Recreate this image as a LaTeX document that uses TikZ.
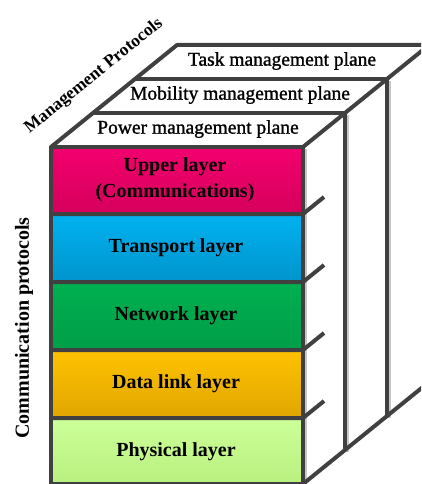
\documentclass[tikz,border=0pt]{standalone}
\usepackage{fontspec}
\setmainfont{Liberation Serif}
\newfontfamily\planefont[FakeBold=1.2]{Liberation Serif}
\definecolor{linegray}{HTML}{404040}
\definecolor{shadowgray}{HTML}{C8C8C8}
\definecolor{pinkT}{HTML}{F2006E}
\definecolor{pinkB}{HTML}{D6005C}
\definecolor{blueT}{HTML}{00B2F0}
\definecolor{blueB}{HTML}{0094CC}
\definecolor{greenT}{HTML}{00B050}
\definecolor{greenB}{HTML}{009E48}
\definecolor{orangeT}{HTML}{FFC200}
\definecolor{orangeB}{HTML}{E0A600}
\definecolor{lgreenT}{HTML}{CCFF99}
\definecolor{lgreenB}{HTML}{B8F07E}
\begin{document}
\begin{tikzpicture}[x=1pt,y=-1pt,
  edge/.style={draw=linegray,line width=4pt,line join=round},
  shadowedge/.style={draw=shadowgray,line width=4pt},
  lbl/.style={font=\fontsize{20}{26}\selectfont\bfseries,align=center,inner sep=0pt},
  plbl/.style={font=\fontsize{19.5}{22}\selectfont\planefont,inner sep=0pt},
  side/.style={font=\fontsize{20}{24}\selectfont\bfseries,inner sep=0pt}]
\useasboundingbox (0,0) rectangle (421,484);
\clip (0,0) rectangle (421,484);
% layer fills
\shade[top color=pinkT,bottom color=pinkB] (51,147) rectangle (303,214);
\shade[top color=blueT,bottom color=blueB] (51,214) rectangle (303,282);
\shade[top color=greenT,bottom color=greenB] (51,282) rectangle (303,350);
\shade[top color=orangeT,bottom color=orangeB] (51,350) rectangle (303,418);
\shade[top color=lgreenT,bottom color=lgreenB] (51,418) rectangle (303,486);
% shadows
\begin{scope}[shift={(2,2)}]
\draw[shadowedge] (345,113) -- (345,450);
\draw[shadowedge] (387,79) -- (387,416);
\draw[shadowedge] (303,147) -- (303,484);
\end{scope}
% coordinates
\coordinate (f0) at (51,147);
\coordinate (f1) at (303,147);
\coordinate (p1l) at (93,113);
\coordinate (p1r) at (345,113);
\coordinate (p2l) at (135,79);
\coordinate (p2r) at (387,79);
\coordinate (p3l) at (177,45);
\coordinate (p3r) at (429,45);
\coordinate (bl) at (51,484);
\coordinate (br) at (303,484);
\coordinate (v1b) at (345,450);
\coordinate (v2b) at (387,416);
\coordinate (bz) at (429,382);
% front face and layer borders
\draw[edge] (bl) -- (f0) -- (f1) -- (br) -- cycle;
\foreach \y in {214,282,350,418}{
  \draw[edge] (51,\y) -- (303,\y) -- ++(21,-17);
}
% planes
\draw[edge] (f0) -- (p3l) -- (p3r);
\draw[edge] (p1l) -- (p1r) -- (v1b);
\draw[edge] (p2l) -- (p2r) -- (v2b);
\draw[edge] (f1) -- (p3r);
\draw[edge] (br) -- (bz);
% plane labels
\node[plbl] (task) at (282,61) {Task management plane};
\node[plbl] (mob) at (240,95) {Mobility management plane};
\node[plbl] (pow) at (198,129) {Power management plane};
% layer labels
\node[lbl] (upper) at (175,180) {Upper layer\\(Communications)};
\node[lbl] (trans) at (176,248) {Transport layer};
\node[lbl] (net) at (176,316) {Network layer};
\node[lbl] (dl) at (176,384) {Data link layer};
\node[lbl] (phy) at (176,452) {Physical layer};
% side labels
\node[side,rotate=90] (comm) at (24,328) {Communication protocols};
\node[side,rotate=39,font=\fontsize{17.5}{20}\selectfont\bfseries] (mgmt) at (94,76) {Management Protocols};
\end{tikzpicture}
\end{document}
